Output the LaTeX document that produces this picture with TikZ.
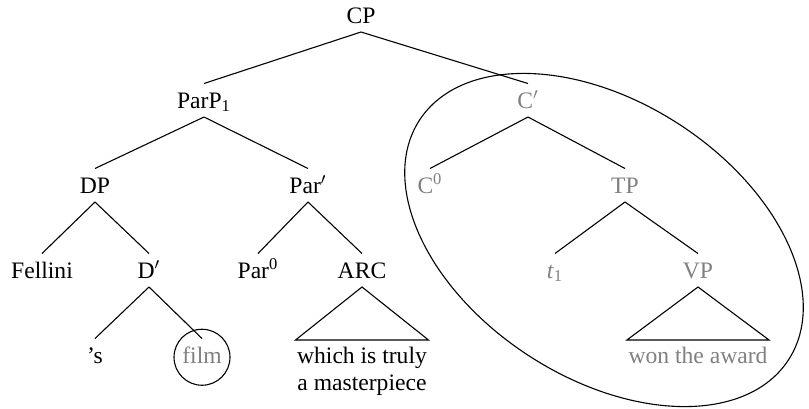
\documentclass[tikz,border=0pt]{standalone}
\usepackage{fontspec}
\setmainfont{Liberation Serif}
\definecolor{greytext}{RGB}{128,128,128}
\begin{document}
\begin{tikzpicture}[x=0.5pt,y=-0.5pt,
  lab/.style={anchor=base,inner sep=0pt,text height=7.75pt,text depth=0pt,outer ysep=4.5pt,font=\fontsize{11.8}{13.5}\selectfont},
  dim/.style={lab,text=greytext},
  roof/.style={anchor=north,inner xsep=0.8pt,inner ysep=3.5pt,outer sep=0pt,align=center,font=\fontsize{11.8}{13.5}\selectfont},
  edge/.style={draw=black,line width=0.55pt},
  ring/.style={draw=black,line width=0.55pt,circle,minimum size=28pt,inner sep=0pt}]
\useasboundingbox (0,0) rectangle (809,408);
% nodes
\node[lab] (CP) at (361,23) {CP};
\node[lab] (ParP) at (204,108) {ParP\textsubscript{1}};
\node[dim] (Cbar) at (528,108) {C$'$};
\node[lab] (DP) at (95,193) {DP};
\node[lab] (Parbar) at (308,193) {Par$'$};
\node[dim] (C0) at (430,193) {C\textsuperscript{0}};
\node[dim] (TP) at (625,193) {TP};
\node[lab] (Fellini) at (42,278) {Fellini};
\node[lab] (Dbar) at (149,278) {D$'$};
\node[lab] (Par0) at (258,278) {Par\textsuperscript{0}};
\node[lab] (ARC) at (362,278) {ARC};
\node[dim] (t1) at (555,278) {\textit{t}\textsubscript{1}};
\node[dim] (VP) at (698,278) {VP};
\node[lab] (s) at (95,363) {’s};
\node[dim] (film) at (202,363) {film};
\node[roof] (arcroof) at (362,340) {which is truly\\a masterpiece};
\node[roof,text=greytext] (vproof) at (698,340) {won the award};
\node[ring,yshift=-1pt] (filmring) at (film.center) {};
% edges
\draw[edge] (CP.south) -- (ParP.north);
\draw[edge] (CP.south) -- (Cbar.north);
\draw[edge] (ParP.south) -- (DP.north);
\draw[edge] (ParP.south) -- (Parbar.north);
\draw[edge] (Cbar.south) -- (C0.north);
\draw[edge] (Cbar.south) -- (TP.north);
\draw[edge] (DP.south) -- (Fellini.north);
\draw[edge] (DP.south) -- (Dbar.north);
\draw[edge] (Parbar.south) -- (Par0.north);
\draw[edge] (Parbar.south) -- (ARC.north);
\draw[edge] (TP.south) -- (t1.north);
\draw[edge] (TP.south) -- (VP.north);
\draw[edge] (Dbar.south) -- (s.north);
\draw[edge] (Dbar.south) -- (film.north);
\draw[edge] (ARC.south) -- (arcroof.north west) -- (arcroof.north east) -- cycle;
\draw[edge] (VP.south) -- (vproof.north west) -- (vproof.north east) -- cycle;
% ellipse round C'
\draw[edge,rotate around={-33:(604,240)}] (604,240) ellipse [x radius=220, y radius=138];
\end{tikzpicture}
\end{document}
